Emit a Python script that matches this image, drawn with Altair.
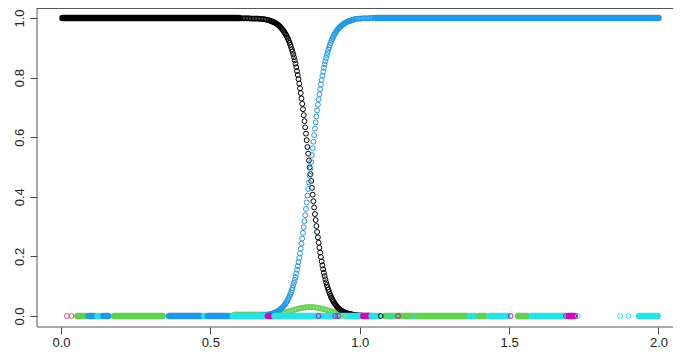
import altair as alt
import pandas as pd

# ---------------- data ----------------
# transition region of the two main curves
CURVE_X = [0.600, 0.605, 0.610, 0.615, 0.620, 0.625, 0.630, 0.635, 0.640, 0.645,
           0.650, 0.655, 0.660, 0.665, 0.670, 0.675, 0.680, 0.685, 0.690, 0.695,
           0.7000, 0.7025, 0.7050, 0.7075, 0.7100, 0.7125, 0.7150, 0.7175, 0.7200, 0.7225,
           0.7250, 0.7275, 0.7300, 0.7325, 0.7350, 0.7375, 0.7400, 0.7425, 0.7450, 0.7475,
           0.7500, 0.7525, 0.7550, 0.7575, 0.7600, 0.7625, 0.7650, 0.7675, 0.7700, 0.7725,
           0.7750, 0.7775, 0.7800, 0.7825, 0.7850, 0.7875, 0.7900, 0.7925, 0.7950, 0.7975,
           0.8000, 0.8025, 0.8050, 0.8075, 0.8100, 0.8125, 0.8150, 0.8175, 0.8200, 0.8225,
           0.8250, 0.8275, 0.8300, 0.8325, 0.8350, 0.8375, 0.8400, 0.8425, 0.8450, 0.8475,
           0.8500, 0.8525, 0.8550, 0.8575, 0.8600, 0.8625, 0.8650, 0.8675, 0.8700, 0.8725,
           0.8750, 0.8775, 0.8800, 0.8825, 0.8850, 0.8875, 0.8900, 0.8925, 0.8950, 0.8975,
           0.9000, 0.9025, 0.9050, 0.9075, 0.9100, 0.9125, 0.9150, 0.9175, 0.9200, 0.9225,
           0.9250, 0.9275, 0.9300, 0.9325, 0.9350, 0.9375, 0.9400, 0.9425, 0.9450, 0.9475,
           0.9500, 0.9525, 0.9550, 0.9575, 0.9600, 0.9625, 0.9650, 0.9675, 0.9700, 0.9725,
           0.9750, 0.9775,
           0.980, 0.985, 0.990, 0.995, 1.000, 1.005, 1.010, 1.015, 1.020, 1.025,
           1.030, 1.035, 1.040, 1.045, 1.050]

BLACK_Y = [0.999, 0.999, 0.999, 0.999, 0.999, 0.999, 0.999, 0.998, 0.998, 0.998,
           0.998, 0.998, 0.998, 0.997, 0.997, 0.997, 0.996, 0.995, 0.994, 0.993,
           0.991, 0.990, 0.989, 0.988, 0.987, 0.986, 0.985, 0.983, 0.982, 0.980,
           0.978, 0.976, 0.974, 0.972, 0.969, 0.966, 0.963, 0.960, 0.957, 0.953,
           0.949, 0.945, 0.940, 0.935, 0.930, 0.924, 0.917, 0.910, 0.903, 0.895,
           0.887, 0.878, 0.868, 0.858, 0.847, 0.835, 0.822, 0.809, 0.795, 0.780,
           0.764, 0.748, 0.730, 0.712, 0.694, 0.674, 0.654, 0.633, 0.612, 0.590,
           0.567, 0.545, 0.522, 0.499, 0.476, 0.453, 0.430, 0.407, 0.385, 0.364,
           0.342, 0.322, 0.302, 0.282, 0.264, 0.246, 0.229, 0.213, 0.198, 0.183,
           0.170, 0.157, 0.145, 0.134, 0.123, 0.113, 0.104, 0.096, 0.088, 0.081,
           0.074, 0.068, 0.062, 0.057, 0.052, 0.048, 0.043, 0.040, 0.036, 0.033,
           0.030, 0.028, 0.025, 0.023, 0.021, 0.019, 0.017, 0.016, 0.014, 0.013,
           0.012, 0.011, 0.010, 0.009, 0.008, 0.007, 0.007, 0.006, 0.006, 0.005,
           0.005, 0.004,
           0.004, 0.003, 0.003, 0.002, 0.002, 0.002, 0.001, 0.001, 0.001, 0.001,
           0.001, 0.000, 0.000, 0.000, 0.000]

BLUE_Y = [0.000, 0.000, 0.000, 0.000, 0.000, 0.000, 0.000, 0.001, 0.001, 0.001,
          0.001, 0.001, 0.001, 0.002, 0.002, 0.002, 0.003, 0.003, 0.004, 0.005,
          0.006, 0.007, 0.007, 0.008, 0.009, 0.010, 0.011, 0.012, 0.013, 0.014,
          0.016, 0.017, 0.019, 0.021, 0.023, 0.025, 0.027, 0.030, 0.033, 0.036,
          0.039, 0.043, 0.047, 0.051, 0.056, 0.061, 0.067, 0.073, 0.079, 0.087,
          0.094, 0.103, 0.112, 0.121, 0.131, 0.143, 0.155, 0.167, 0.181, 0.195,
          0.210, 0.226, 0.243, 0.260, 0.279, 0.298, 0.318, 0.338, 0.359, 0.381,
          0.404, 0.426, 0.448, 0.471, 0.494, 0.517, 0.540, 0.563, 0.585, 0.607,
          0.629, 0.650, 0.670, 0.690, 0.709, 0.727, 0.744, 0.761, 0.777, 0.792,
          0.806, 0.820, 0.833, 0.844, 0.855, 0.866, 0.876, 0.885, 0.894, 0.902,
          0.909, 0.916, 0.923, 0.929, 0.934, 0.939, 0.944, 0.948, 0.953, 0.956,
          0.960, 0.963, 0.966, 0.969, 0.971, 0.973, 0.976, 0.978, 0.979, 0.981,
          0.983, 0.984, 0.986, 0.987, 0.988, 0.989, 0.990, 0.991, 0.991, 0.992,
          0.993, 0.993,
          0.995, 0.997, 0.997, 0.998, 0.998, 0.998, 0.999, 0.999, 0.999, 0.999,
          0.999, 1.000, 1.000, 1.000, 1.000]

# small green bump
GREEN_X = [0.580, 0.585, 0.590, 0.595, 0.600, 0.605, 0.610, 0.615, 0.620, 0.625,
           0.630, 0.635, 0.640, 0.645, 0.650, 0.655, 0.660, 0.665, 0.670, 0.675,
           0.680, 0.685, 0.690, 0.695, 0.700, 0.705, 0.710, 0.715, 0.720, 0.725,
           0.730, 0.735, 0.740, 0.745, 0.750, 0.755, 0.760, 0.765, 0.770, 0.775,
           0.780, 0.785, 0.790, 0.795, 0.800, 0.805, 0.810, 0.815, 0.820, 0.825,
           0.830, 0.835, 0.840, 0.845, 0.850, 0.855, 0.860, 0.865, 0.870, 0.875,
           0.880, 0.885, 0.890, 0.895, 0.900, 0.905, 0.910, 0.915, 0.920, 0.925,
           0.930, 0.935, 0.940, 0.945, 0.950, 0.955, 0.960, 0.965, 0.970, 0.975]
GREEN_Y = [0.0050, 0.0050, 0.0050, 0.0050, 0.0050, 0.0050, 0.0050, 0.0050, 0.0050, 0.0050,
           0.0050, 0.0050, 0.0050, 0.0050, 0.0050, 0.0050, 0.0050, 0.0050, 0.0050, 0.0050,
           0.0050, 0.0050, 0.0050, 0.0050, 0.0050, 0.0055, 0.0060, 0.0065, 0.0070, 0.0075,
           0.0080, 0.0088, 0.0097, 0.0107, 0.0120, 0.0133, 0.0147, 0.0162, 0.0176, 0.0191,
           0.0205, 0.0220, 0.0233, 0.0246, 0.0258, 0.0269, 0.0278, 0.0286, 0.0292, 0.0297,
           0.0299, 0.0300, 0.0299, 0.0295, 0.0290, 0.0283, 0.0275, 0.0265, 0.0254, 0.0241,
           0.0228, 0.0214, 0.0200, 0.0185, 0.0170, 0.0156, 0.0142, 0.0128, 0.0115, 0.0102,
           0.0091, 0.0080, 0.0070, 0.0061, 0.0052, 0.0050, 0.0048, 0.0046, 0.0045, 0.0044]

# plateaus (dense runs of points at y = 1)
PLATEAU_START = [0.005, 1.055]
PLATEAU_END = [0.595, 2.000]
PLATEAU_Y = [1.0, 1.0]
PLATEAU_COLOR = ["#000000", "#2297E6"]

# dense runs of points along y = 0
SEG_START = [0.055, 0.095, 0.122, 0.142, 0.178, 0.362, 0.480, 0.492, 0.575, 0.693,
             0.715, 1.012, 1.040, 1.085, 1.370, 1.400, 1.435, 1.530, 1.575, 1.700,
             1.935]
SEG_END = [0.085, 0.112, 0.128, 0.158, 0.340, 0.468, 0.482, 0.562, 0.688, 0.710,
           1.005, 1.036, 1.062, 1.360, 1.385, 1.418, 1.495, 1.560, 1.688, 1.720,
           1.997]
SEG_COLOR = ["#61D04F", "#2297E6", "#28E2E5", "#2297E6", "#61D04F", "#2297E6", "#28E2E5",
             "#2297E6", "#28E2E5", "#CD0BBC", "#28E2E5", "#CD0BBC", "#28E2E5", "#61D04F",
             "#28E2E5", "#61D04F", "#28E2E5", "#61D04F", "#28E2E5", "#CD0BBC", "#28E2E5"]

# isolated points along y = 0
DOT_X = [0.020, 0.035, 0.090, 0.862, 0.918, 0.928, 0.945, 1.070, 1.095, 1.112,
         1.128, 1.180, 1.505, 1.690, 1.730, 1.872, 1.899]
DOT_COLOR = ["#DF536B", "#DF536B", "#2297E6", "#CD0BBC", "#CD0BBC", "#CD0BBC", "#F5C710",
             "#000000", "#28E2E5", "#28E2E5", "#CD0BBC", "#28E2E5", "#CD0BBC", "#CD0BBC",
             "#28E2E5", "#28E2E5", "#28E2E5"]

X_TICKS = [0.0, 0.5, 1.0, 1.5, 2.0]
Y_TICKS = [0.0, 0.2, 0.4, 0.6, 0.8, 1.0]

# ---------------- tables ----------------
black_df = pd.DataFrame({"x": CURVE_X, "y": BLACK_Y})
blue_df = pd.DataFrame({"x": CURVE_X, "y": BLUE_Y})
green_df = pd.DataFrame({"x": GREEN_X, "y": GREEN_Y})
plat_df = pd.DataFrame({"x": PLATEAU_START, "x2": PLATEAU_END, "y": PLATEAU_Y, "c": PLATEAU_COLOR})
seg_df = pd.DataFrame({"x": SEG_START, "x2": SEG_END, "c": SEG_COLOR})
seg_df["y"] = 0.0
dot_df = pd.DataFrame({"x": DOT_X, "c": DOT_COLOR})
dot_df["y"] = 0.0

W, H = 636, 319
FONT = "Liberation Sans"
xs = alt.Scale(domain=[-0.0803, 2.0486], nice=False, zero=False)
ys = alt.Scale(domain=[-0.0369, 1.0336], nice=False, zero=False)

x_axis = alt.Axis(values=X_TICKS, format=".1f", grid=False, domain=False, tickSize=7,
                  tickColor="#444444", tickWidth=1, labelFontSize=13, labelColor="#222222",
                  labelFont=FONT, labelPadding=2, labelFlush=False, title=None)
y_axis = alt.Axis(values=Y_TICKS, format=".1f", grid=False, domain=False, tickSize=7,
                  tickColor="#444444", tickWidth=1, labelFontSize=13, labelColor="#222222",
                  labelFont=FONT, labelPadding=4, labelAngle=270, labelAlign="center",
                  labelBaseline="bottom", labelFlush=False, title=None)

X = lambda f="x": alt.X(f + ":Q", scale=xs, axis=x_axis)
Y = lambda: alt.Y("y:Q", scale=ys, axis=y_axis)

POINT = dict(shape="circle", filled=False, size=24, strokeWidth=1, opacity=1)

green_layer = alt.Chart(green_df).mark_point(color="#61D04F", **POINT).encode(x=X(), y=Y())
black_layer = alt.Chart(black_df).mark_point(color="#000000", **POINT).encode(x=X(), y=Y())
blue_layer = alt.Chart(blue_df).mark_point(color="#2297E6", **POINT).encode(x=X(), y=Y())
plat_layer = alt.Chart(plat_df).mark_rule(strokeWidth=6.5, strokeCap="round", opacity=1).encode(
    x=X(), x2="x2:Q", y=Y(), color=alt.Color("c:N", scale=None))
seg_layer = alt.Chart(seg_df).mark_rule(strokeWidth=6.5, strokeCap="round", opacity=1).encode(
    x=X(), x2="x2:Q", y=Y(), color=alt.Color("c:N", scale=None))
dot_layer = alt.Chart(dot_df).mark_point(**POINT).encode(
    x=X(), y=Y(), color=alt.Color("c:N", scale=None))

# plot frame (left, top, bottom; the right side lies beyond the window)
BOX = dict(color="#555555", strokeWidth=1, opacity=1)
frame_left = alt.Chart().mark_rule(**BOX).encode(x=alt.value(0), y=alt.value(0), y2=alt.value(H))
frame_top = alt.Chart().mark_rule(**BOX).encode(x=alt.value(0), x2=alt.value(W), y=alt.value(0.5))
frame_bottom = alt.Chart().mark_rule(**BOX).encode(x=alt.value(0), x2=alt.value(W), y=alt.value(H))

chart = alt.layer(green_layer, black_layer, blue_layer, plat_layer, seg_layer, dot_layer,
                  frame_left, frame_top, frame_bottom).properties(
    width=W, height=H, autosize="none",
    padding={"left": 29, "top": 0, "right": 0, "bottom": 24},
    background="white",
).configure_view(stroke=None)

chart.save("out.html", embed_options={"renderer": "svg", "actions": False})
